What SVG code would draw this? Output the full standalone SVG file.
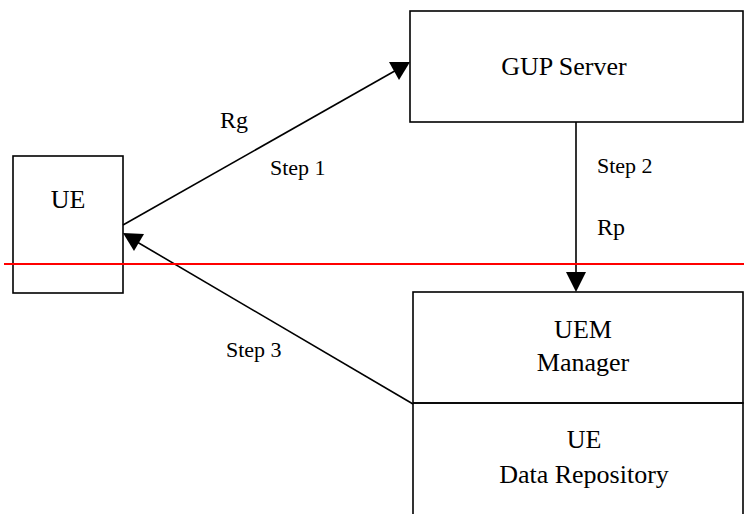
<svg xmlns="http://www.w3.org/2000/svg" width="744" height="514" viewBox="0 0 744 514">
<style>
.box{fill:#fff;stroke:#000;stroke-width:1.6}
.t{font-family:"Liberation Serif","Times New Roman",serif;fill:#000}
.lbl{font-size:26px;text-anchor:middle}
.step{font-size:22px}
.iface{font-size:24px}
.conn{stroke:#000;stroke-width:1.6;fill:none}
</style>
<g id="ue">
<rect class="box" x="13" y="156" width="110" height="137"/>
<text class="t lbl" x="68" y="208">UE</text>
</g>
<g id="gup-server">
<rect class="box" x="410" y="11" width="333" height="111"/>
<text class="t lbl" x="564" y="75">GUP Server</text>
</g>
<g id="uem-manager">
<rect class="box" x="413" y="292" width="330" height="111"/>
<text class="t lbl" x="583" y="338">UEM</text>
<text class="t lbl" x="583" y="371">Manager</text>
</g>
<g id="ue-data-repository">
<path class="conn" d="M413,403 V520 M413,403 H743 V520"/>
<text class="t lbl" x="584" y="448">UE</text>
<text class="t lbl" x="584" y="483">Data Repository</text>
</g>
<g id="connectors">
<line class="conn" x1="123" y1="225" x2="400" y2="68"/>
<polygon points="410,62 389,62 399,80" fill="#000"/>
<line class="conn" x1="576" y1="122" x2="576" y2="280"/>
<polygon points="576,292 566,272 586,272" fill="#000"/>
<line class="conn" x1="413" y1="404" x2="132" y2="239"/>
<polygon points="123,233 144,234 134,251" fill="#000"/>
<text class="t iface" x="220" y="128">Rg</text>
<text class="t step" x="270" y="175">Step 1</text>
<text class="t step" x="597" y="173">Step 2</text>
<text class="t iface" x="597" y="235">Rp</text>
<text class="t step" x="226" y="357">Step 3</text>
</g>
<line x1="4" y1="264" x2="744" y2="264" stroke="#f00" stroke-width="2"/>
</svg>
